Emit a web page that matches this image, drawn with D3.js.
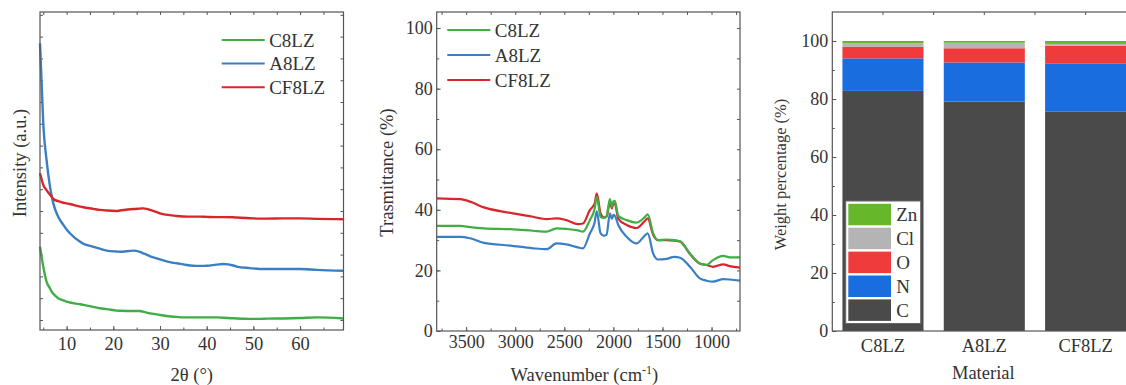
<!DOCTYPE html>
<html>
<head>
<meta charset="utf-8">
<script src="https://cdn.jsdelivr.net/npm/d3@7"></script>
<style>
  body { margin: 0; background: #fff; }
  svg { display: block; }
  .axis text { fill: #333; }
  .axis path, .axis line { stroke: #555; }
  .title { fill: #333; }
</style>
</head>
<body>
<div id="chart"></div>
<script>
// ---- XRD (left) ----
var xrdAngle = [4.3, 4.65, 5.0, 5.7, 6.44, 6.8, 7.15, 8.2, 9.3, 10.0, 10.7, 12.9, 13.6, 15.7, 17.1, 18.6, 20.7, 21.4, 24.3, 25.7, 26.4, 27.1, 27.9, 29.3, 30.0, 32.9, 33.6, 35.0, 37.1, 38.6, 40.0, 42.1, 43.6, 45.7, 46.4, 49.3, 51.4, 52.9, 56.4, 60.0, 63.6, 69.3];
var xrdC8LZ = [3.36, 2.9, 2.45, 1.76, 1.45, 1.3, 1.2, 1.0, 0.9, 0.84, 0.8, 0.72, 0.69, 0.6, 0.54, 0.5, 0.43, 0.42, 0.41, 0.41, 0.38, 0.34, 0.3, 0.26, 0.23, 0.15, 0.14, 0.12, 0.12, 0.12, 0.12, 0.12, 0.1, 0.08, 0.07, 0.05, 0.05, 0.06, 0.07, 0.09, 0.12, 0.07];
var xrdA8LZ = [12.69, 10.86, 9.02, 7.34, 6.12, 5.7, 5.35, 4.74, 4.36, 4.15, 3.98, 3.59, 3.5, 3.36, 3.27, 3.18, 3.14, 3.13, 3.18, 3.12, 3.06, 3.0, 2.92, 2.83, 2.78, 2.62, 2.6, 2.55, 2.49, 2.48, 2.49, 2.54, 2.57, 2.5, 2.45, 2.38, 2.34, 2.34, 2.34, 2.34, 2.3, 2.26];
var xrdCF8LZ = [6.73, 6.45, 6.2, 5.96, 5.75, 5.65, 5.55, 5.45, 5.38, 5.35, 5.32, 5.2, 5.17, 5.1, 5.05, 5.02, 5.0, 5.02, 5.09, 5.11, 5.12, 5.1, 5.05, 4.95, 4.89, 4.79, 4.77, 4.75, 4.74, 4.74, 4.73, 4.72, 4.72, 4.71, 4.7, 4.67, 4.65, 4.65, 4.66, 4.66, 4.64, 4.62];

// ---- FTIR (middle) ----
var wavenumber = [3800, 3560, 3460, 3320, 3050, 2820, 2680, 2580, 2480, 2360, 2310, 2240, 2190, 2170, 2130, 2100, 2070, 2035, 2015, 2000, 1985, 1950, 1865, 1765, 1680, 1650, 1595, 1545, 1460, 1380, 1320, 1220, 1120, 1050, 985, 880, 815, 710];
var ftirC8LZ = [34.7, 34.7, 34.3, 33.9, 33.6, 33.1, 32.8, 33.9, 33.7, 33.2, 32.8, 36.6, 40.5, 44.3, 37.7, 37.3, 37.9, 43.5, 41.0, 42.8, 43.0, 38.0, 36.6, 35.8, 37.6, 38.5, 32.3, 30.0, 30.2, 30.0, 29.6, 25.6, 22.3, 21.8, 23.4, 24.8, 24.3, 24.3];
var ftirA8LZ = [31.1, 31.1, 30.6, 29.1, 28.2, 27.3, 27.0, 28.9, 28.6, 27.6, 27.3, 32.2, 36.0, 39.5, 32.2, 31.5, 31.7, 38.8, 37.0, 38.3, 38.0, 35.0, 31.1, 28.9, 31.5, 32.2, 25.6, 23.6, 23.8, 24.5, 24.2, 21.2, 17.4, 16.6, 16.3, 17.1, 17.0, 16.6];
var ftirCF8LZ = [43.8, 43.5, 42.7, 40.8, 39.0, 37.7, 36.9, 37.2, 36.6, 35.3, 35.5, 39.9, 42.1, 45.4, 38.8, 37.5, 37.7, 42.5, 40.5, 42.0, 42.0, 37.0, 35.0, 34.0, 36.3, 37.2, 31.8, 30.0, 30.0, 29.8, 29.5, 25.4, 22.3, 21.8, 21.2, 22.0, 21.4, 20.9];

// ---- composition (right) ----
var materials = ["C8LZ", "A8LZ", "CF8LZ"];
var elements = ["C", "N", "O", "Cl", "Zn"];
var weightC = [82.8, 79.1, 75.6];
var weightN = [11.2, 13.5, 16.7];
var weightO = [4.0, 4.9, 6.1];
var weightCl = [1.2, 1.9, 0.6];
var weightZn = [0.8, 0.6, 1.0];

var seriesNames = ["C8LZ", "A8LZ", "CF8LZ"];
var lineColors = {C8LZ: "#3fae45", A8LZ: "#3a7fc4", CF8LZ: "#d9262a"};
var elemColors = {C: "#4a4a4a", N: "#1a6ddf", O: "#ef3b3c", Cl: "#b4b4b4", Zn: "#66b82a"};

var FONT = "Liberation Serif";

var W = 1126, H = 385;
var svg = d3.select("#chart").append("svg")
    .attr("width", W).attr("height", H)
    .attr("font-family", FONT)
    .style("background", "#fff");

function frame(g, w, h) {
    g.append("rect").attr("width", w).attr("height", h)
        .attr("fill", "none").attr("stroke", "#555").attr("stroke-width", 1.2);
}

function ticks(g, axis, tr, size) {
    var a = g.append("g").attr("class", "axis").attr("transform", tr).call(axis);
    a.attr("font-family", FONT).attr("font-size", size || 18);
    a.select(".domain").remove();
    return a;
}

function title(g, txt, size) {
    return g.append("text").attr("class", "title")
        .attr("font-family", FONT).attr("font-size", size).text(txt);
}

function lineLegend(g, x0, y0, dy, size) {
    seriesNames.forEach(function (s, i) {
        var y = y0 + i * dy;
        g.append("line").attr("x1", x0).attr("x2", x0 + 43)
            .attr("y1", y).attr("y2", y)
            .attr("stroke", lineColors[s]).attr("stroke-width", 2);
        title(g, s, size).attr("x", x0 + 47.5).attr("y", y + 6.5);
    });
}

function xrdPanel() {
    var left = 40, top = 12, w = 303.5, h = 318;
    var g = svg.append("g").attr("transform", "translate(" + left + "," + top + ")");
    var x = d3.scaleLinear().domain([4.3, 69.3]).range([0, w]);
    var y = d3.scaleLinear().domain([-0.46, 14.13]).range([h, 0]);

    ticks(g, d3.axisBottom(x).tickValues(d3.range(5, 70, 5)).tickSize(-2.5).tickFormat(""), "translate(0," + h + ")");
    ticks(g, d3.axisBottom(x).tickValues(d3.range(10, 70, 10)).tickSize(-4).tickPadding(6.5).tickFormat(d3.format("d")), "translate(0," + h + ")", 18.5);
    ticks(g, d3.axisTop(x).tickValues(d3.range(5, 70, 5)).tickSize(-3).tickFormat(""), null);
    ticks(g, d3.axisLeft(y).tickValues(d3.range(0, 15)).tickSize(-3).tickFormat(""), null);
    ticks(g, d3.axisRight(y).tickValues(d3.range(0, 15)).tickSize(-3).tickFormat(""), "translate(" + w + ",0)");

    var data = {C8LZ: xrdC8LZ, A8LZ: xrdA8LZ, CF8LZ: xrdCF8LZ};
    var line = d3.line().x(function (d) { return x(d[0]); }).y(function (d) { return y(d[1]); })
        .curve(d3.curveMonotoneX);
    ["C8LZ", "A8LZ", "CF8LZ"].forEach(function (s) {
        g.append("path")
            .datum(xrdAngle.map(function (a, i) { return [a, data[s][i]]; }))
            .attr("fill", "none").attr("stroke", lineColors[s]).attr("stroke-width", 2.4)
            .attr("d", line);
    });
    frame(g, w, h);
    lineLegend(g, 181.7, 28, 23.6, 19);

    title(g, "Intensity (a.u.)", 18.5).attr("text-anchor", "middle")
        .attr("transform", "translate(-14," + (h / 2 - 8) + ") rotate(-90)");
    title(g, "2θ (°)", 18.5).attr("text-anchor", "middle")
        .attr("x", w / 2).attr("y", h + 51);
}

function ftirPanel() {
    var left = 436.7, top = 12, w = 303.3, h = 319;
    var g = svg.append("g").attr("transform", "translate(" + left + "," + top + ")");
    var x = d3.scaleLinear().domain([3800, 710]).range([0, w]);
    var y = d3.scaleLinear().domain([0, 105.3]).range([h, 0]);

    ticks(g, d3.axisBottom(x).tickValues(d3.range(750, 3800, 250)).tickSize(-2.5).tickFormat(""), "translate(0," + h + ")");
    ticks(g, d3.axisBottom(x).tickValues(d3.range(1000, 4000, 500)).tickSize(-4).tickPadding(4).tickFormat(d3.format("d")), "translate(0," + h + ")", 18);
    ticks(g, d3.axisTop(x).tickValues(d3.range(750, 3800, 250)).tickSize(-3).tickFormat(""), null);
    ticks(g, d3.axisLeft(y).tickValues(d3.range(10, 110, 10)).tickSize(-2.5).tickFormat(""), null);
    ticks(g, d3.axisLeft(y).tickValues(d3.range(0, 101, 20)).tickSize(-4).tickPadding(4).tickFormat(d3.format("d")), null, 18);
    ticks(g, d3.axisRight(y).tickValues(d3.range(10, 110, 10)).tickSize(-3).tickFormat(""), "translate(" + w + ",0)");

    var data = {C8LZ: ftirC8LZ, A8LZ: ftirA8LZ, CF8LZ: ftirCF8LZ};
    var line = d3.line().x(function (d) { return x(d[0]); }).y(function (d) { return y(d[1]); })
        .curve(d3.curveMonotoneX);
    ["CF8LZ", "C8LZ", "A8LZ"].forEach(function (s) {
        g.append("path")
            .datum(wavenumber.map(function (wn, i) { return [wn, data[s][i]]; }))
            .attr("fill", "none").attr("stroke", lineColors[s]).attr("stroke-width", 2.2)
            .attr("d", line);
    });
    frame(g, w, h);
    lineLegend(g, 10.6, 18, 25, 19);

    title(g, "Trasmittance (%)", 18.5).attr("text-anchor", "middle")
        .attr("transform", "translate(-43.5," + (h / 2 + 1) + ") rotate(-90)");
    var t = title(g, "", 18.5).attr("text-anchor", "middle")
        .attr("x", w / 2 - 4).attr("y", h + 50);
    t.append("tspan").text("Wavenumber (cm");
    t.append("tspan").attr("dy", -7).attr("font-size", 12).text("-1");
    t.append("tspan").attr("dy", 7).text(")");
}

function barPanel() {
    var left = 832.3, top = 12, w = 304, h = 319;
    var g = svg.append("g").attr("transform", "translate(" + left + "," + top + ")");
    var x = d3.scaleBand().domain(materials).range([0, w]).paddingInner(0.2).paddingOuter(0.1);
    var y = d3.scaleLinear().domain([0, 110]).range([h, 0]);

    var rows = materials.map(function (m, i) {
        return {material: m, C: weightC[i], N: weightN[i], O: weightO[i], Cl: weightCl[i], Zn: weightZn[i]};
    });
    var stack = d3.stack().keys(elements)(rows);

    g.selectAll("g.layer").data(stack).enter().append("g")
        .attr("fill", function (d) { return elemColors[d.key]; })
        .selectAll("rect").data(function (d) { return d; }).enter().append("rect")
        .attr("x", function (d) { return x(d.data.material); })
        .attr("y", function (d) { return y(d[1]); })
        .attr("width", x.bandwidth())
        .attr("height", function (d) { return y(d[0]) - y(d[1]); });

    ticks(g, d3.axisLeft(y).tickValues(d3.range(10, 110, 10)).tickSize(-2.5).tickFormat(""), null);
    ticks(g, d3.axisLeft(y).tickValues(d3.range(0, 101, 20)).tickSize(-4).tickPadding(4).tickFormat(d3.format("d")), null, 18);
    ticks(g, d3.axisBottom(x).tickSize(0).tickPadding(7.5), "translate(0," + h + ")", 18.5);

    var topTicks = materials.map(function (m) { return x(m) + x.bandwidth() / 2; });
    for (var i = 0; i < materials.length - 1; i++) {
        topTicks.push((x(materials[i]) + x.bandwidth() + x(materials[i + 1])) / 2);
    }
    g.selectAll("line.tt").data(topTicks).enter().append("line")
        .attr("x1", function (d) { return d; }).attr("x2", function (d) { return d; })
        .attr("y1", 0).attr("y2", 3).attr("stroke", "#555");

    frame(g, w, h);

    // legend
    var lg = g.append("g").attr("transform", "translate(13.4,189)");
    lg.append("rect").attr("width", 75).attr("height", 122.5)
        .attr("fill", "#fff").attr("stroke", "#666").attr("stroke-width", 1);
    elements.slice().reverse().forEach(function (e, i) {
        lg.append("rect").attr("x", 2.6).attr("y", 2.8 + i * 23.9)
            .attr("width", 42.7).attr("height", 21.5).attr("fill", elemColors[e]);
        title(lg, e, 19).attr("x", 50.5).attr("y", 20 + i * 23.9);
    });

    title(g, "Weight percentage (%)", 16.5).attr("text-anchor", "middle")
        .attr("transform", "translate(-46.5," + (h / 2 + 3) + ") rotate(-90)");
    title(g, "Material", 18.5).attr("text-anchor", "middle")
        .attr("x", 151).attr("y", h + 48);
}

function init() {
    xrdPanel();
    ftirPanel();
    barPanel();
}
window.onload = init;
</script>
</body>
</html>
